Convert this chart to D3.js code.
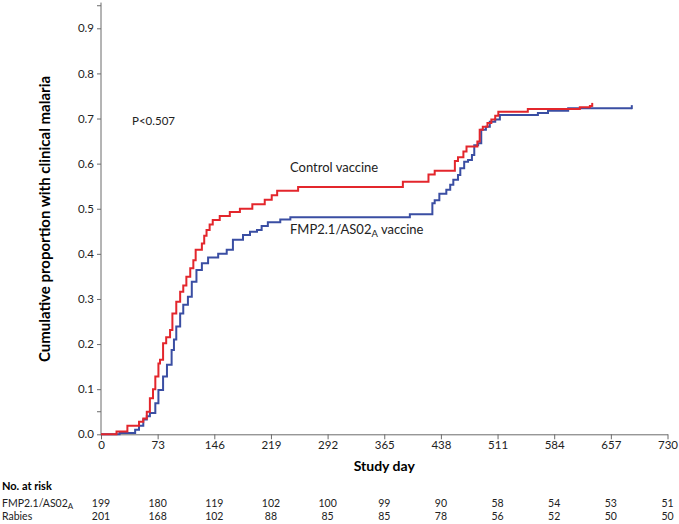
<!DOCTYPE html>
<html><head><meta charset="utf-8">
<script src="https://cdn.jsdelivr.net/npm/d3@7"></script>
<style>
html,body{margin:0;padding:0;background:#fff;}
svg{display:block;font-family:Lato,"Open Sans",sans-serif;}
</style></head>
<body><svg id="chart" width="679" height="524"></svg>
<script>
// ---- data ----
const xTicks = [0,73,146,219,292,365,438,511,584,657,730];
const yTicks = [0,0.1,0.2,0.3,0.4,0.5,0.6,0.7,0.8,0.9];
const yMinorTicks = [0.05,0.95];
// Control (rabies) vaccine: [day, cumulative proportion]
const controlSteps = [[0,0],[20,0.006],[34,0.019],[49,0.028],[54.5,0.035],[59,0.05],[63,0.08],[67,0.10],[70,0.128],[74,0.157],[76,0.165],[80,0.202],[84,0.215],[89,0.231],[92,0.268],[97,0.294],[102,0.316],[106,0.33],[110,0.349],[115,0.368],[119,0.386],[122,0.409],[130,0.423],[133,0.44],[136,0.453],[140,0.465],[144,0.475],[153,0.484],[166,0.493],[179,0.50],[195,0.51],[211,0.52],[220,0.53],[227,0.54],[254,0.548],[389,0.56],[422,0.576],[430,0.584],[456,0.606],[460,0.614],[467,0.627],[471,0.638],[485,0.649],[488,0.675],[492,0.682],[498,0.69],[503,0.698],[508,0.706],[512,0.715],[550,0.721],[617,0.725],[630,0.728]];
const controlEnd = 633;
// FMP2.1/AS02A vaccine
const fmpSteps = [[0,0],[24,0.003],[44,0.01],[49,0.019],[54.5,0.033],[59,0.04],[63,0.047],[70,0.069],[74,0.098],[80,0.128],[85,0.154],[91,0.187],[94,0.21],[97,0.239],[102,0.268],[106,0.287],[112,0.305],[117,0.338],[123,0.364],[130,0.379],[138,0.392],[151,0.40],[162,0.409],[170,0.431],[183,0.442],[192,0.449],[201,0.453],[207,0.462],[215,0.47],[231,0.476],[244,0.481],[398,0.488],[427,0.512],[430,0.519],[436,0.533],[445,0.542],[450,0.553],[454,0.564],[460,0.575],[463,0.59],[468,0.604],[473,0.608],[478,0.619],[481,0.641],[486,0.645],[490,0.675],[496,0.682],[501,0.693],[508,0.698],[514,0.708],[563,0.712],[576,0.717],[602,0.723]];
const fmpEnd = 684;
const riskFmp = [199,180,119,102,100,99,90,58,54,53,51];
const riskRabies = [201,168,102,88,85,85,78,56,52,50,50];

// ---- layout ----
const svg = d3.select("#chart");
const x = d3.scaleLinear().domain([0,730]).range([101,667.5]);
const y = d3.scaleLinear().domain([0,0.9]).range([434.3,28.3]);
const axisColor = "#6b6b6b";
const textColor = "#222";

// y axis
const yAxis = svg.append("g").attr("transform","translate(101,0)")
  .call(d3.axisLeft(y).tickValues(yTicks).tickFormat(d3.format(".1f")).tickSize(4).tickPadding(3));
yAxis.select(".domain").remove();
yAxis.append("line").attr("x1",0).attr("x2",0).attr("y1",y(0)+1).attr("y2",y(0.957)).attr("stroke",axisColor);
svg.append("g").attr("transform","translate(101,0)").selectAll("line").data(yMinorTicks).join("line")
  .attr("x1",-4).attr("x2",0).attr("y1",d=>y(d)).attr("y2",d=>y(d)).attr("stroke",axisColor);

// x axis
const xAxis = svg.append("g").attr("transform",`translate(0,${y(0)})`)
  .call(d3.axisBottom(x).tickValues(xTicks).tickFormat(d3.format("d")).tickSize(5).tickPadding(2).tickSizeOuter(0));
[yAxis,xAxis].forEach(g=>{
  g.selectAll(".tick line").attr("stroke",axisColor);
  g.selectAll(".domain").attr("stroke",axisColor);
  g.selectAll("text").attr("fill",textColor).style("font-size","11.5px").style("font-family","Lato,'Open Sans',sans-serif");
});

// curves
function stepPath(steps,end){
  const pts = steps.concat([[end, steps[steps.length-1][1]]]);
  return d3.line().x(d=>x(d[0])).y(d=>y(d[1])).curve(d3.curveStepAfter)(pts);
}
const series = [
  {steps:fmpSteps,end:fmpEnd,color:"#3a4ea3"},
  {steps:controlSteps,end:controlEnd,color:"#e3262c"}
];
series.forEach(s=>{
  svg.append("path").attr("d",stepPath(s.steps,s.end)).attr("fill","none")
    .attr("stroke",s.color).attr("stroke-width",2);
  const last = s.steps[s.steps.length-1][1];
  svg.append("line").attr("x1",x(s.end)).attr("x2",x(s.end))
    .attr("y1",y(last)-3).attr("y2",y(last)+1).attr("stroke",s.color).attr("stroke-width",2);
});

// annotations
svg.append("text").attr("x",132).attr("y",125).attr("fill",textColor)
  .style("font-size","11.5px").text("P<0.507");
svg.append("text").attr("x",290).attr("y",172).attr("fill",textColor)
  .style("font-size","13px").text("Control vaccine");
const fl = svg.append("text").attr("x",290).attr("y",234).attr("fill",textColor).style("font-size","13px");
fl.append("tspan").text("FMP2.1/AS02");
fl.append("tspan").attr("dy",3).style("font-size","9.5px").text("A");
fl.append("tspan").attr("dy",-3).text(" vaccine");

// axis titles
svg.append("text").attr("transform","translate(50,219) rotate(-90)").attr("text-anchor","middle")
  .attr("fill","#000").style("font-size","15px").style("font-weight","bold")
  .text("Cumulative proportion with clinical malaria");
svg.append("text").attr("x",x(365)).attr("y",471).attr("text-anchor","middle")
  .attr("fill","#000").style("font-size","14px").style("font-weight","bold").text("Study day");

// number at risk
const fs = "10.5px";
svg.append("text").attr("x",2).attr("y",490).attr("fill","#000")
  .style("font-size","11px").style("font-weight","bold").text("No. at risk");
const rl = svg.append("text").attr("x",2).attr("y",506.5).attr("fill",textColor).style("font-size",fs);
rl.append("tspan").text("FMP2.1/AS02");
rl.append("tspan").attr("dy",2.5).style("font-size","8px").text("A");
svg.append("text").attr("x",2).attr("y",519.5).attr("fill",textColor).style("font-size",fs).text("Rabies");
svg.append("g").selectAll("text").data(riskFmp).join("text")
  .attr("x",(d,i)=>x(xTicks[i])).attr("y",506.5).attr("text-anchor","middle")
  .attr("fill",textColor).style("font-size",fs).text(d=>d);
svg.append("g").selectAll("text").data(riskRabies).join("text")
  .attr("x",(d,i)=>x(xTicks[i])).attr("y",519.5).attr("text-anchor","middle")
  .attr("fill",textColor).style("font-size",fs).text(d=>d);
</script></body></html>
